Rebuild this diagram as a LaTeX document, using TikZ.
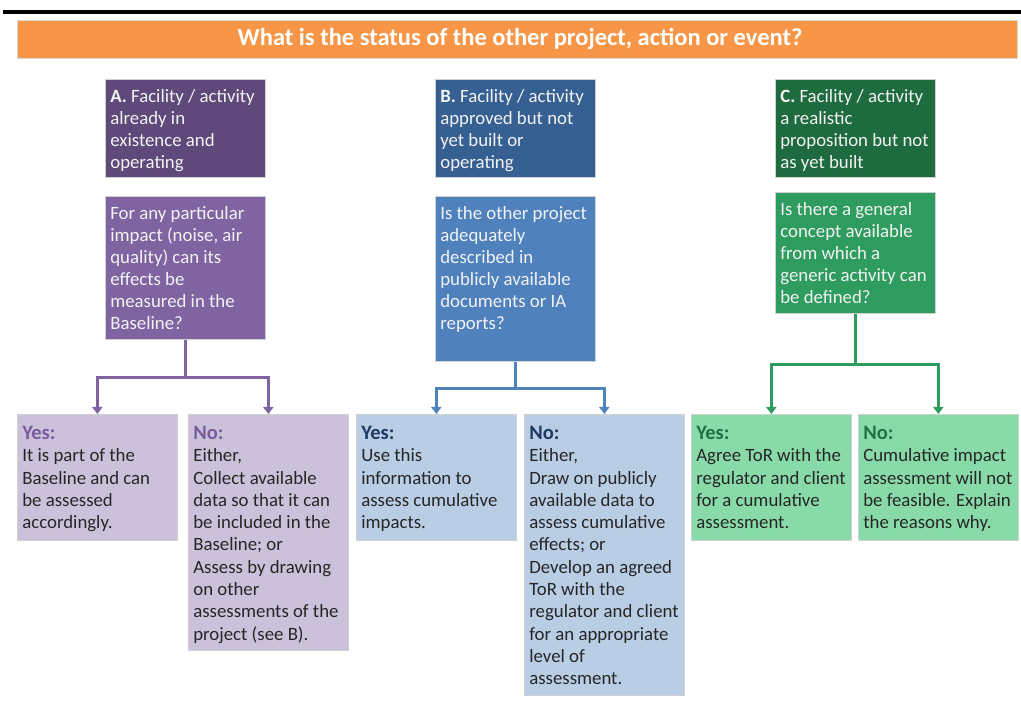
\documentclass[tikz,border=0pt]{standalone}
\usepackage{fontspec}
\setmainfont{Carlito}
\usetikzlibrary{arrows.meta}
\definecolor{orangebar}{HTML}{F79646}
\definecolor{aHead}{HTML}{5F497A}
\definecolor{aQ}{HTML}{8064A2}
\definecolor{aLight}{HTML}{CCC1DA}
\definecolor{aLab}{HTML}{7A5C9E}
\definecolor{bHead}{HTML}{376092}
\definecolor{bQ}{HTML}{4F81BD}
\definecolor{bLight}{HTML}{B9CDE5}
\definecolor{bLab}{HTML}{1F3A63}
\definecolor{cHead}{HTML}{1F6B40}
\definecolor{cQ}{HTML}{2E9C5E}
\definecolor{cLight}{HTML}{88DBA8}
\definecolor{cLab}{HTML}{1E7244}
\definecolor{bodytext}{HTML}{262626}
\definecolor{qtext}{HTML}{F2F2F2}
\newcommand{\boxtext}[2]{\parbox[c][#1][t]{150pt}{\raggedright\strut #2}}
\newcommand{\anstext}[2]{\parbox[c][#1][t]{150pt}{\vspace*{2pt}\raggedright\strut #2}}
\newcommand{\lab}[2]{{\fontsize{20.5}{22}\selectfont\textcolor{#1}{\textbf{#2}}}}
\tikzset{
  box/.style={anchor=north west, inner xsep=5pt, inner ysep=7.5pt, draw=black!18, line width=0.7pt,
    font=\fontsize{18.8}{22}\selectfont},
  hdrbox/.style={box, text=qtext},
  ansbox/.style={box, text=bodytext, font=\fontsize{18.8}{22.3}\selectfont},
  con/.style={line width=2.6pt, -{Triangle[width=10pt,length=7pt]}},
}
\begin{document}
\begin{tikzpicture}[x=1pt,y=-1pt]
\useasboundingbox (0,0) rectangle (1021,703);
\draw[line width=4pt] (3,12) -- (1021,12);
\node[fill=orangebar, draw=black!15, line width=0.7pt, minimum width=1000pt, minimum height=38pt,
  text=white, font=\fontsize{24.5}{28}\selectfont\bfseries] (title) at (517,39)
  {\hspace*{6pt}What is the status of the other project, action or event?};
% Column A
\node[hdrbox, fill=aHead] (ah) at (105,79) {\boxtext{83pt}{\textbf{A.} Facility / activity\\ already in\\ existence and\\ operating}};
\node[hdrbox, fill=aQ] (aq) at (105,196) {\boxtext{128pt}{For any particular\\ impact (noise, air\\ quality) can its\\ effects be\\ measured in the\\ Baseline?}};
\node[ansbox, fill=aLight] (ay) at (17,414) {\anstext{111pt}{\lab{aLab}{Yes:}\\ It is part of the\\ Baseline and can\\ be assessed\\ accordingly.}};
\node[ansbox, fill=aLight] (an) at (188,414) {\anstext{221pt}{\lab{aLab}{No:}\\ Either,\\ Collect available\\ data so that it can\\ be included in the\\ Baseline; or\\ Assess by drawing\\ on other\\ assessments of the\\ project (see B).}};
% Column B
\node[hdrbox, fill=bHead] (bh) at (435,79) {\boxtext{83pt}{\textbf{B.} Facility / activity\\ approved but not\\ yet built or\\ operating}};
\node[hdrbox, fill=bQ] (bq) at (435,196) {\boxtext{150pt}{Is the other project\\ adequately\\ described in\\ publicly available\\ documents or IA\\ reports?}};
\node[ansbox, fill=bLight] (by) at (356,414) {\anstext{111pt}{\lab{bLab}{Yes:}\\ Use this\\ information to\\ assess cumulative\\ impacts.}};
\node[ansbox, fill=bLight] (bn) at (524,414) {\anstext{266pt}{\lab{bLab}{No:}\\ Either,\\ Draw on publicly\\ available data to\\ assess cumulative\\ effects; or\\ Develop an agreed\\ ToR with the\\ regulator and client\\ for an appropriate\\ level of\\ assessment.}};
% Column C
\node[hdrbox, fill=cHead] (ch) at (775,79) {\boxtext{83pt}{\textbf{C.} Facility / activity\\ a realistic\\ proposition but not\\ as yet built}};
\node[hdrbox, fill=cQ] (cq) at (775,192) {\boxtext{106pt}{Is there a general\\ concept available\\ from which a\\ generic activity can\\ be defined?}};
\node[ansbox, fill=cLight] (cy) at (691,414) {\anstext{111pt}{\lab{cLab}{Yes:}\\ Agree ToR with the\\ regulator and client\\ for a cumulative\\ assessment.}};
\node[ansbox, fill=cLight] (cn) at (858,414) {\anstext{111pt}{\lab{cLab}{No:}\\ Cumulative impact\\ assessment will not\\ be feasible. Explain\\ the reasons why.}};
% Connectors
\draw[con, draw=aQ, color=aQ] (aq.south) -- ++(0,38) -| (ay.north);
\draw[con, draw=aQ, color=aQ] (aq.south) -- ++(0,38) -| (an.north);
\draw[con, draw=bQ, color=bQ] (bq.south) -- ++(0,27) -| (by.north);
\draw[con, draw=bQ, color=bQ] (bq.south) -- ++(0,27) -| (bn.north);
\draw[con, draw=cQ, color=cQ] (cq.south) -- ++(0,51) -| (cy.north);
\draw[con, draw=cQ, color=cQ] (cq.south) -- ++(0,51) -| (cn.north);
\end{tikzpicture}
\end{document}
